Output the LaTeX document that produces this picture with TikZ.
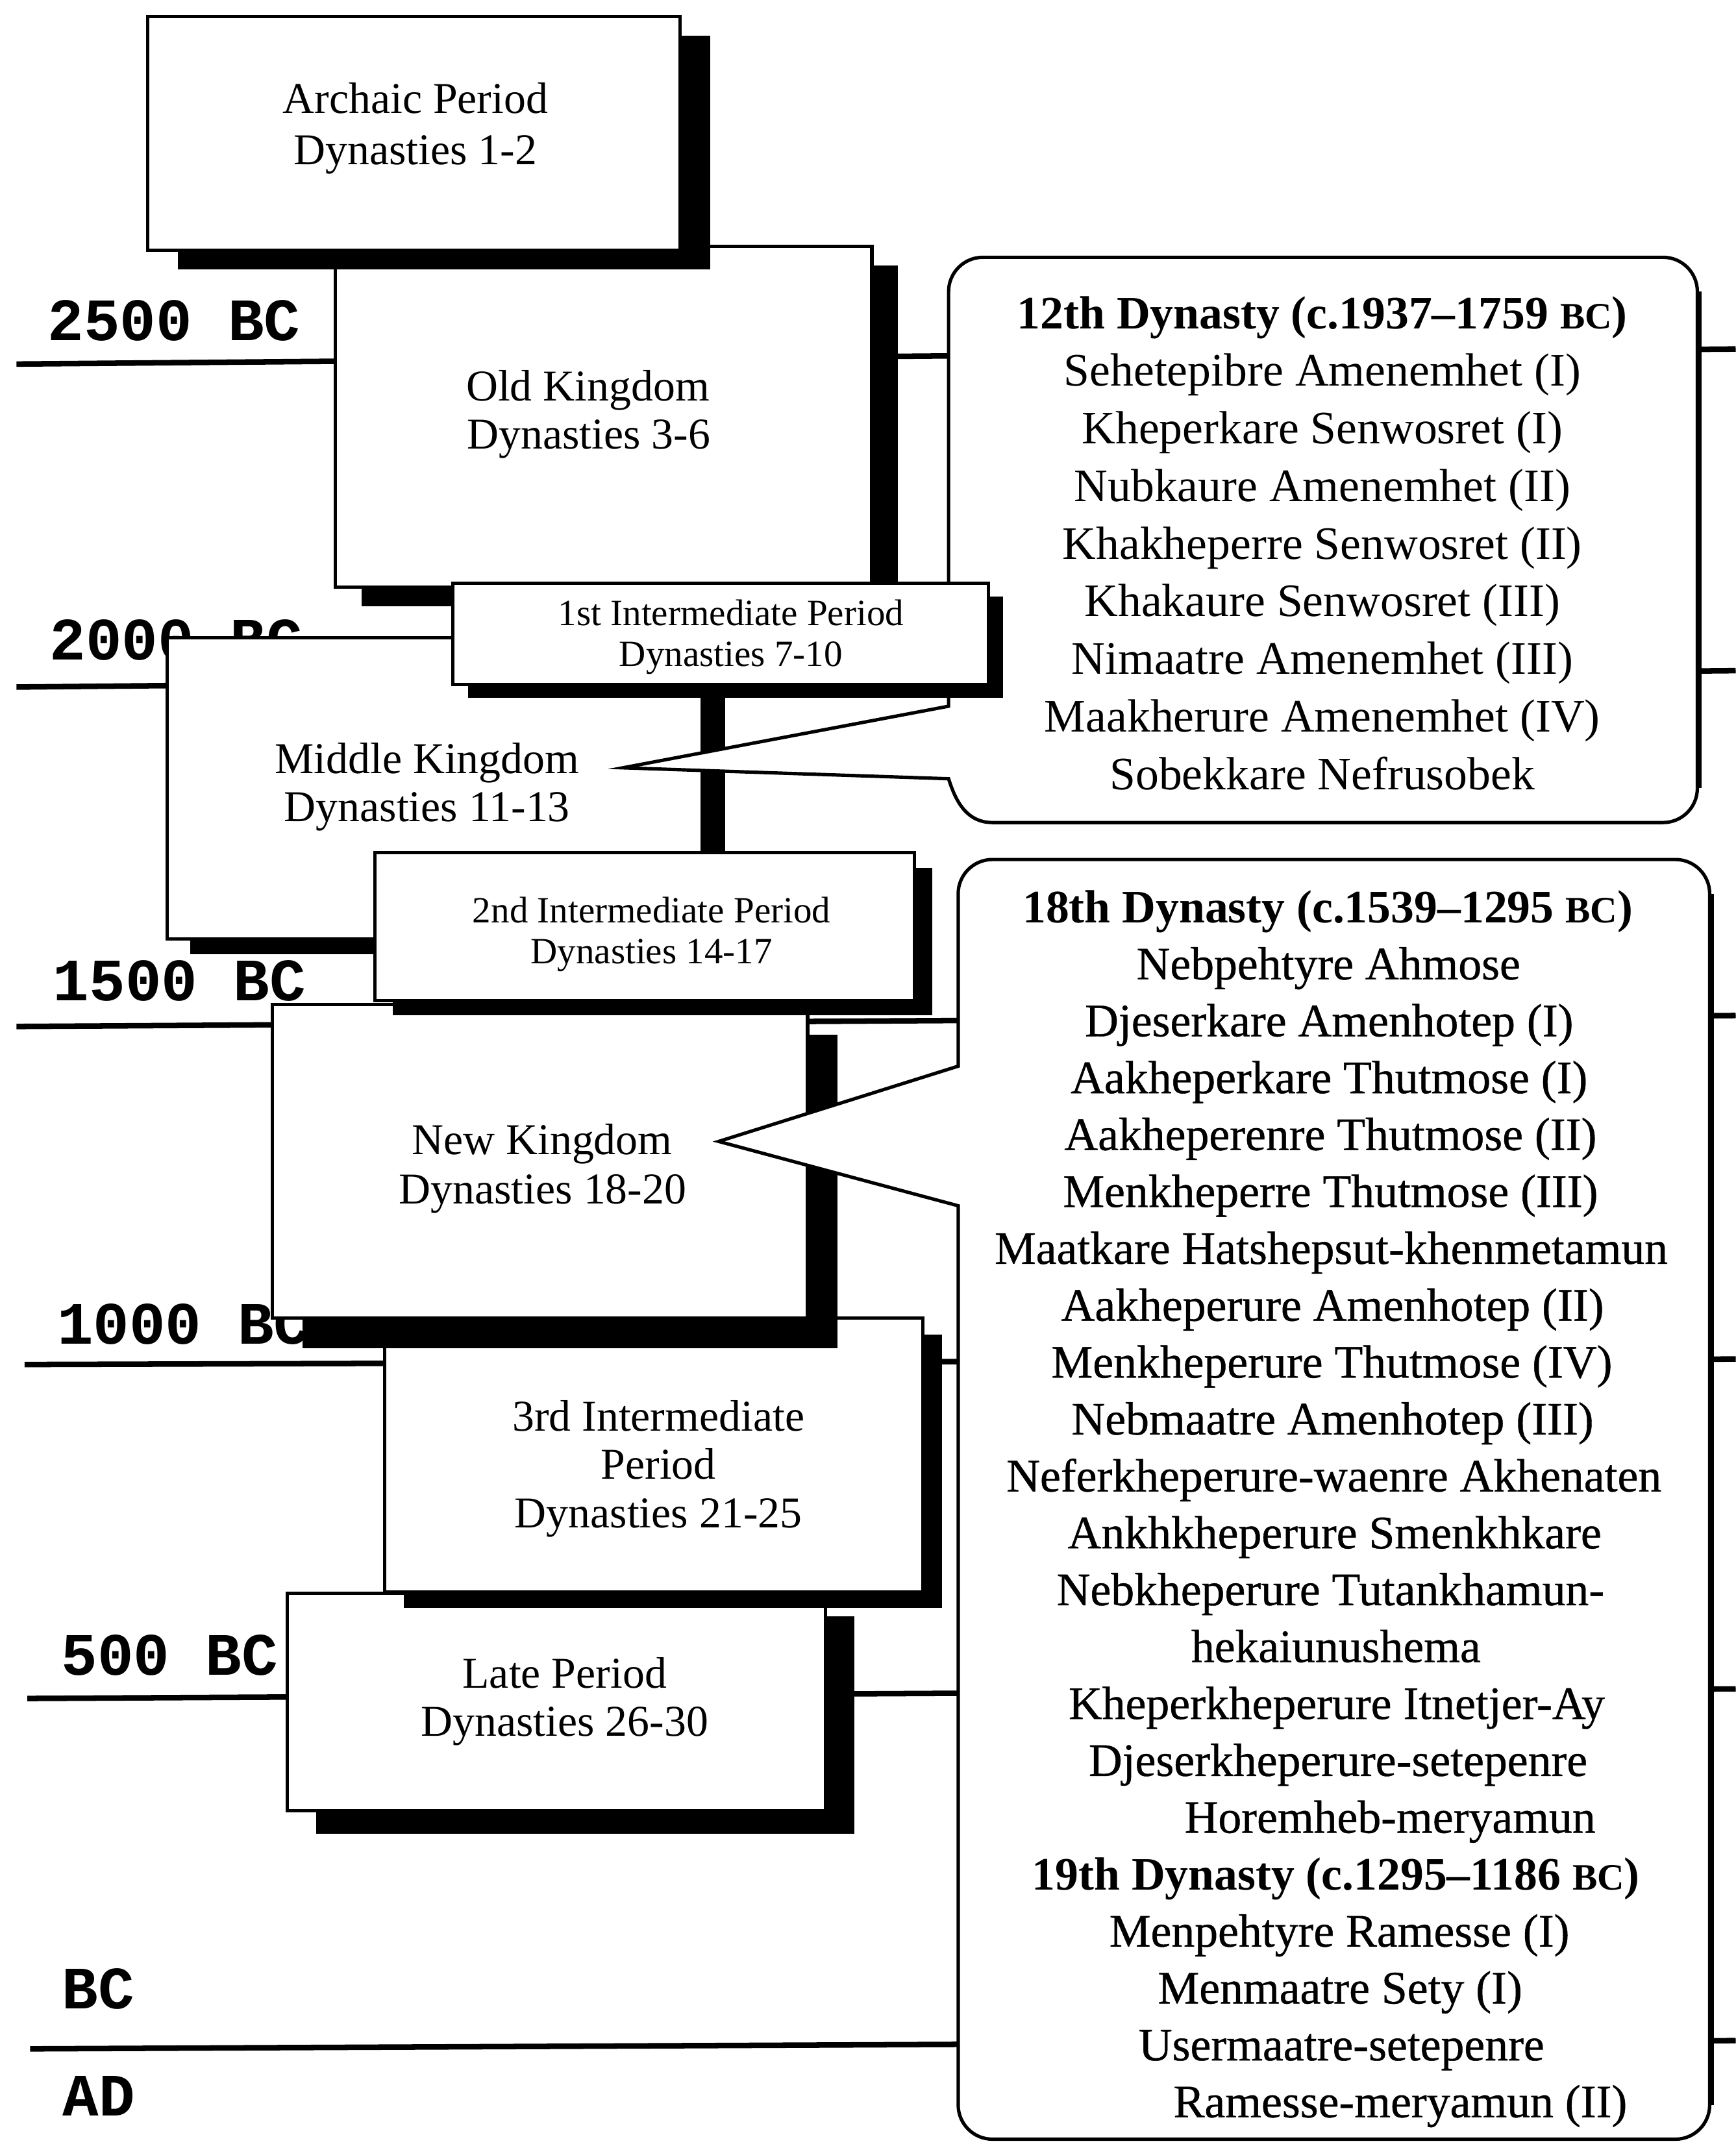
\documentclass[tikz,border=0pt]{standalone}
\usepackage{fontspec}
\setmainfont{Liberation Serif}
\newfontfamily\monof{Liberation Mono}
\newfontfamily\ctwof[FakeBold=0.6]{Liberation Serif}
\usetikzlibrary{fit}
\newcommand\smBC{{\fontsize{15.5pt}{15.5pt}\selectfont BC}}
\newcommand\period[7]{%
  \fill[shad] (#2+#6,#3+#7) rectangle (#4+#6,#5+#7);
  \node[pbox, fit={(#2,#3) (#4,#5)}] (#1) {};}
\begin{document}
\begin{tikzpicture}[x=0.02cm,y=-0.02cm,
  tline/.style={line width=2.3pt},
  pbox/.style={draw, fill=white, line width=1.4pt, inner sep=0pt, outer sep=0pt},
  shad/.style={fill=black},
  callout/.style={draw, fill=white, line width=1.4pt, line join=miter},
  cedge/.style={line width=2.2pt},
  ttxt/.style={font=\monof\bfseries\fontsize{25pt}{25pt}\selectfont, anchor=base west, inner sep=0pt},
  btxt/.style={font=\fontsize{18.3pt}{20pt}\selectfont, anchor=base, inner sep=0pt},
  stxt/.style={font=\fontsize{15.4pt}{17pt}\selectfont, anchor=base, inner sep=0pt},
  ctxt/.style={font=\fontsize{19.35pt}{21pt}\selectfont, anchor=base, inner sep=0pt},
  ctxtb/.style={font=\ctwof\fontsize{19.35pt}{21pt}\selectfont, anchor=base, inner sep=0pt},
  chead/.style={font=\bfseries\fontsize{19.35pt}{21pt}\selectfont, anchor=base, inner sep=0pt},
]
\useasboundingbox (0,0) rectangle (1268,1568);
\fill[white] (0,0) rectangle (1268,1568);

% time lines
\coordinate (l1a) at (12,266);   \coordinate (l1b) at (1268,255);
\coordinate (l2a) at (12,502);   \coordinate (l2b) at (1268,490);
\coordinate (l3a) at (12,750);   \coordinate (l3b) at (1268,742);
\coordinate (l4a) at (18,997);   \coordinate (l4b) at (1268,993);
\coordinate (l5a) at (20,1241);  \coordinate (l5b) at (1268,1234);
\coordinate (l6a) at (22,1497);  \coordinate (l6b) at (1268,1491);
\draw[tline] (l1a) -- (l1b);
\draw[tline] (l2a) -- (l2b);
\draw[tline] (l3a) -- (l3b);
\draw[tline] (l4a) -- (l4b);
\draw[tline] (l5a) -- (l5b);
\draw[tline] (l6a) -- (l6b);

% time labels
\node[ttxt] (lab2500) at (34.5,249) {2500 BC};
\node[ttxt] (lab2000) at (36,482) {2000 BC};
\node[ttxt] (lab1500) at (38.5,731) {1500 BC};
\node[ttxt] (lab1000) at (41.5,982) {1000 BC};
\node[ttxt] (lab500) at (44.5,1224) {500 BC};
\node[ttxt] (labBC) at (45,1467.5) {BC};
\node[ttxt] (labAD) at (45.5,1546) {AD};

% Late Period
\period{late}{210}{1164}{603}{1323}{21}{17}
\node[btxt] (late1) at (412.5,1233.5) {Late Period};
\node[btxt] (late2) at (412.5,1268.5) {Dynasties 26-30};

% 3rd Intermediate
\period{int3}{281}{963}{674}{1163}{14}{12}
\node[btxt] (int3a) at (481,1045.5) {3rd Intermediate};
\node[btxt] (int3b) at (481,1080.6) {Period};
\node[btxt] (int3c) at (481,1116) {Dynasties 21-25};

% New Kingdom
\period{newk}{199}{734}{590}{963}{22}{22}
\node[btxt] (newk1) at (396,843.5) {New Kingdom};
\node[btxt] (newk2) at (396.5,879.5) {Dynasties 18-20};

% callout 2 (18th / 19th dynasty)
\coordinate (c2tip) at (525,834);
\draw[callout] (700,779) -- (700,653) .. controls (700,639.2) and (711.2,628) .. (725,628)
  -- (1224,628) .. controls (1237.8,628) and (1249,639.2) .. (1249,653)
  -- (1249,1538) .. controls (1249,1551.8) and (1237.8,1563) .. (1224,1563)
  -- (725,1563) .. controls (711.2,1563) and (700,1551.8) .. (700,1538)
  -- (700,881) -- (c2tip) -- cycle;
\draw[cedge] (1250,653) -- (1250,1538);
\node[chead] (c2h1) at (970,674) {18th Dynasty (c.1539–1295 \smBC)};
\foreach \k/\xx/\t in {1/970.5/Nebpehtyre Ahmose, 2/971/Djeserkare Amenhotep (I),
  3/971/Aakheperkare Thutmose (I), 4/972/Aakheperenre Thutmose (II),
  5/972/Menkheperre Thutmose (III), 6/972.5/Maatkare Hatshepsut-khenmetamun,
  7/973.5/Aakheperure Amenhotep (II), 8/973/Menkheperure Thutmose (IV),
  9/973.5/Nebmaatre Amenhotep (III), 10/974.5/Neferkheperure-waenre Akhenaten,
  11/975/Ankhkheperure Smenkhkare, 12/972/Nebkheperure Tutankhamun-,
  13/976/hekaiunushema, 14/976.5/Kheperkheperure Itnetjer-Ay,
  15/977.5/Djeserkheperure-setepenre, 16/1015.5/Horemheb-meryamun,
  18/978.5/Menpehtyre Ramesse (I), 19/979/Menmaatre Sety (I),
  20/980/Usermaatre-setepenre, 21/1023/Ramesse-meryamun (II)}
  {\node[ctxtb] (c2l\k) at (\xx,674+41.57*\k) {\t};}
\node[chead] (c2h2) at (976,674+41.57*17) {19th Dynasty (c.1295–1186 \smBC)};

% Middle Kingdom
\period{midk}{122}{466}{513}{686}{17}{11}
\node[btxt] (midk1) at (312,565) {Middle Kingdom};
\node[btxt] (midk2) at (312,600) {Dynasties 11-13};

% callout 1 (12th dynasty)
\coordinate (c1tip) at (455,561);
\draw[callout] (693,516) -- (693,213) .. controls (693,199.2) and (704.2,188) .. (718,188)
  -- (1215,188) .. controls (1228.8,188) and (1240,199.2) .. (1240,213)
  -- (1240,576) .. controls (1240,589.8) and (1228.8,601) .. (1215,601)
  -- (725,601) .. controls (706,601) and (698,585) .. (693,569)
  -- (c1tip) -- cycle;
\draw[cedge] (1241,213) -- (1241,576);
\node[chead] (c1h) at (966,240) {12th Dynasty (c.1937–1759 \smBC)};
\foreach \k/\t in {1/Sehetepibre Amenemhet (I), 2/Kheperkare Senwosret (I),
  3/Nubkaure Amenemhet (II), 4/Khakheperre Senwosret (II), 5/Khakaure Senwosret (III),
  6/Nimaatre Amenemhet (III), 7/Maakherure Amenemhet (IV), 8/Sobekkare Nefrusobek}
  {\node[ctxt] (c1l\k) at (966,240+42.1*\k) {\t};}

% Old Kingdom
\period{oldk}{245}{180}{637}{429}{19}{14}
\node[btxt] (oldk1) at (429.5,293) {Old Kingdom};
\node[btxt] (oldk2) at (430,328) {Dynasties 3-6};

% 2nd Intermediate
\period{int2}{274}{623}{668}{731}{13}{11}
\node[stxt] (int2a) at (476,674) {2nd Intermediate Period};
\node[stxt] (int2b) at (476,704) {Dynasties 14-17};

% 1st Intermediate
\period{int1}{331}{426}{722}{500}{11}{10}
\node[stxt] (int1a) at (534,457) {1st Intermediate Period};
\node[stxt] (int1b) at (534,487) {Dynasties 7-10};

% Archaic
\period{archaic}{108}{12}{497}{183}{22}{14}
\node[btxt] (arch1) at (303.5,83) {Archaic Period};
\node[btxt] (arch2) at (303.5,120) {Dynasties 1-2};
\end{tikzpicture}
\end{document}
